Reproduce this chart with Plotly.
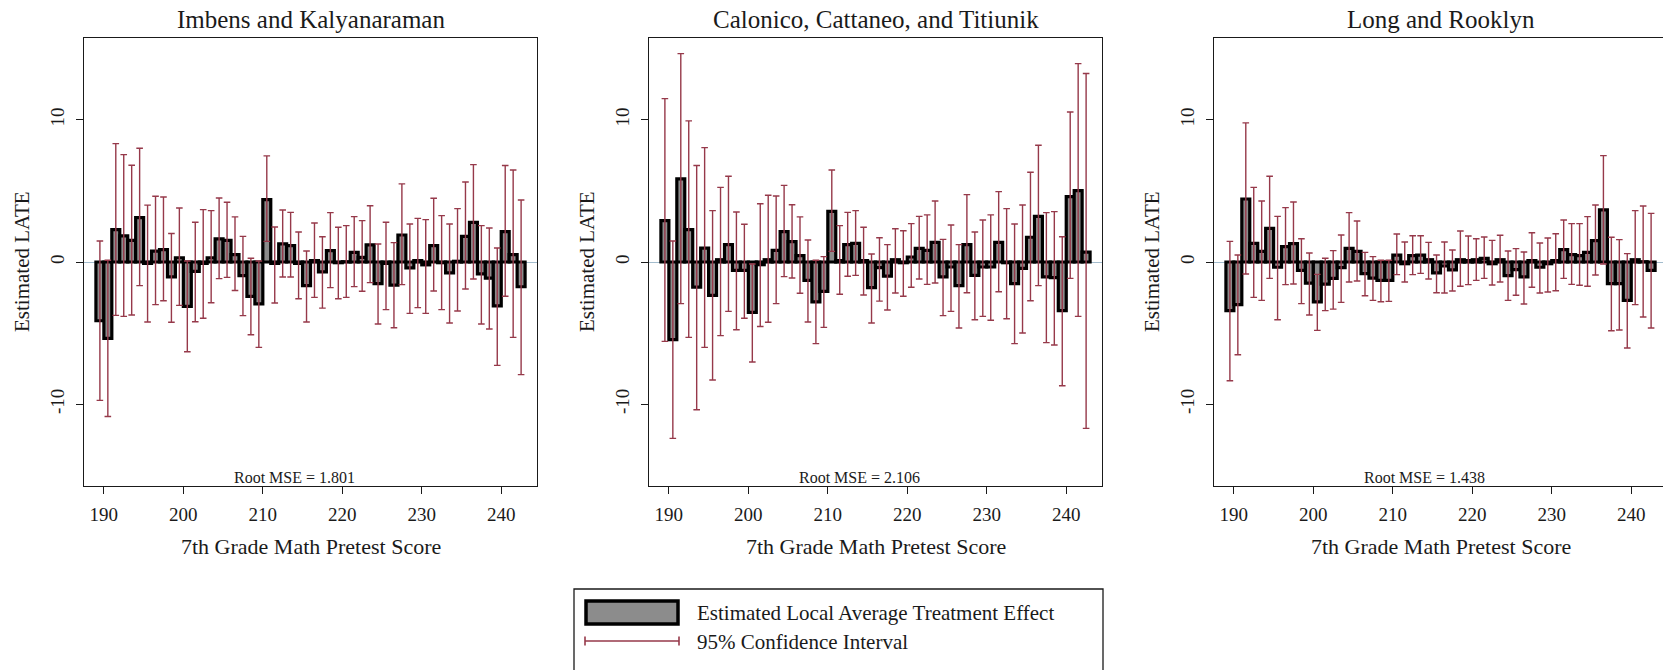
import plotly.graph_objects as go

W, H = 1663, 670

scores = [189.5, 190.5, 191.5, 192.5, 193.5, 194.5, 195.5, 196.5, 197.5, 198.5,
          199.5, 200.5, 201.5, 202.5, 203.5, 204.5, 205.5, 206.5, 207.5, 208.5,
          209.5, 210.5, 211.5, 212.5, 213.5, 214.5, 215.5, 216.5, 217.5, 218.5,
          219.5, 220.5, 221.5, 222.5, 223.5, 224.5, 225.5, 226.5, 227.5, 228.5,
          229.5, 230.5, 231.5, 232.5, 233.5, 234.5, 235.5, 236.5, 237.5, 238.5,
          239.5, 240.5, 241.5, 242.5]

# Imbens and Kalyanaraman
ik_est = [-4.13, -5.37, 2.27, 1.83, 1.52, 3.12, -0.10, 0.77, 0.87, -1.05,
          0.30, -3.12, -0.66, -0.10, 0.30, 1.62, 1.52, 0.52, -0.96, -2.41,
          -2.95, 4.38, -0.10, 1.27, 1.15, -0.10, -1.66, 0.10, -0.70, 0.80,
          -0.05, 0.02, 0.68, 0.33, 1.20, -1.52, -0.10, -1.62, 1.90, -0.42,
          0.10, -0.20, 1.15, -0.05, -0.77, 0.05, 1.80, 2.79, -0.84, -1.13,
          -3.09, 2.13, 0.52, -1.74]
ik_lo = [-9.73, -10.86, -3.75, -3.82, -3.73, -1.66, -4.22, -3.00, -2.72, -4.24,
         -3.05, -6.31, -4.20, -3.96, -2.86, -1.17, -1.08, -2.00, -3.77, -5.11,
         -6.00, 1.45, -2.88, -1.05, -1.05, -2.58, -4.22, -2.49, -3.24, -1.80,
         -2.58, -2.49, -1.73, -2.06, -1.45, -4.36, -3.35, -4.62, -1.59, -3.61,
         -3.21, -3.61, -2.04, -3.35, -4.29, -3.45, -1.90, -1.20, -4.36, -4.71,
         -7.27, -2.41, -5.30, -7.92]
ik_hi = [1.48, 0.12, 8.32, 7.55, 6.80, 8.00, 4.00, 4.62, 4.57, 2.00,
         3.80, 0.07, 2.79, 3.68, 3.61, 4.50, 4.20, 3.17, 1.80, 0.26,
         0.07, 7.46, 2.46, 3.66, 3.49, 2.11, 0.77, 2.74, 1.78, 3.47,
         2.44, 2.56, 3.19, 2.91, 3.96, 1.27, 2.79, 1.36, 5.49, 2.67,
         3.07, 2.98, 4.48, 3.26, 2.67, 3.75, 5.63, 6.85, 2.56, 2.39,
         0.98, 6.78, 6.47, 4.36]

# Calonico, Cattaneo, and Titiunik
cct_est = [2.91, -5.46, 5.84, 2.27, -1.76, 0.98, -2.34, 0.16, 1.22, -0.59,
           -0.59, -3.54, -0.19, 0.16, 0.82, 2.13, 1.43, 0.45, -1.29, -2.81,
           -2.06, 3.56, 0.10, 1.22, 1.31, 0.10, -1.80, -0.40, -1.00, 0.16,
           -0.05, 0.35, 0.96, 0.82, 1.38, -1.05, -0.35, -1.66, 1.22, -0.94,
           -0.35, -0.35, 1.38, -0.05, -1.52, -0.45, 1.74, 3.21, -1.05, -1.10,
           -3.42, 4.60, 5.02, 0.70]
cct_lo = [-5.58, -12.40, -2.93, -5.30, -10.39, -6.00, -8.30, -5.18, -3.47, -4.76,
          -3.96, -7.03, -4.53, -4.24, -2.93, -1.03, -1.13, -2.20, -4.22, -5.74,
          -4.60, 0.75, -2.27, -1.00, -0.94, -2.32, -4.29, -2.75, -3.38, -2.18,
          -2.41, -1.78, -1.20, -1.57, -1.48, -3.77, -3.47, -4.64, -2.16, -4.06,
          -3.82, -4.10, -2.09, -3.99, -5.74, -4.99, -2.72, -1.66, -5.67, -5.84,
          -8.70, -1.15, -3.82, -11.70]
cct_hi = [11.49, 1.48, 14.65, 9.92, 6.78, 8.04, 3.61, 5.25, 6.03, 3.52,
          2.65, -0.14, 4.10, 4.69, 4.64, 5.39, 4.03, 3.17, 1.55, 0.12,
          0.38, 6.47, 2.56, 3.49, 3.61, 2.44, 0.56, 1.71, 1.22, 2.34,
          2.20, 2.70, 3.21, 3.31, 4.29, 1.59, 2.60, 1.22, 4.74, 2.11,
          2.95, 3.31, 4.95, 3.75, 2.67, 4.01, 6.31, 8.21, 3.47, 3.54,
          1.78, 10.55, 13.95, 13.25]

# Long and Rooklyn
lr_est = [-3.42, -3.00, 4.43, 1.31, 0.75, 2.37, -0.37, 1.08, 1.29, -0.59,
          -1.48, -2.81, -1.55, -1.15, -0.40, 0.96, 0.75, -0.82, -1.13, -1.29,
          -1.29, 0.49, -0.12, 0.45, 0.49, 0.16, -0.77, -0.28, -0.56, 0.16,
          0.10, 0.16, 0.26, -0.12, 0.16, -0.96, -0.54, -1.05, 0.10, -0.37,
          -0.12, 0.10, 0.87, 0.52, 0.45, 0.68, 1.50, 3.66, -1.52, -1.52,
          -2.70, 0.16, 0.02, -0.59]
lr_lo = [-8.35, -6.52, -0.84, -2.49, -2.70, -1.15, -4.06, -1.59, -1.55, -2.93,
         -3.73, -4.81, -3.42, -3.31, -2.84, -1.41, -1.34, -2.37, -2.70, -2.79,
         -2.77, -0.89, -1.41, -0.89, -0.80, -1.20, -2.16, -2.18, -2.04, -1.71,
         -1.59, -1.29, -1.15, -1.62, -1.41, -2.70, -2.34, -2.95, -1.78, -2.18,
         -2.11, -2.02, -1.15, -1.57, -1.64, -1.71, -0.91, -0.14, -4.83, -4.78,
         -6.05, -3.00, -3.87, -4.64]
lr_hi = [1.45, 0.49, 9.78, 5.25, 4.29, 6.03, 3.21, 3.82, 4.22, 1.64,
         0.63, -0.87, 0.26, 0.80, 1.90, 3.47, 2.88, 0.68, 0.38, 0.12,
         0.12, 1.97, 1.41, 1.85, 1.85, 1.38, 0.49, 1.41, 0.84, 2.18,
         1.83, 1.64, 1.76, 1.52, 1.88, 0.77, 0.94, 0.70, 2.06, 1.34,
         1.69, 1.99, 2.95, 2.70, 2.70, 3.19, 4.01, 7.48, 1.74, 1.57,
         0.59, 3.61, 3.94, 3.42]

titles = ["Imbens and Kalyanaraman", "Calonico, Cattaneo, and Titiunik", "Long and Rooklyn"]
rmse_labels = ["Root MSE = 1.801", "Root MSE = 2.106", "Root MSE = 1.438"]
x_ticks = [190, 200, 210, 220, 230, 240]
y_ticks = [-10, 0, 10]
x_title = "7th Grade Math Pretest Score"
y_title = "Estimated LATE"
legend_labels = ["Estimated Local Average Treatment Effect", "95% Confidence Interval"]

series = [(ik_est, ik_lo, ik_hi), (cct_est, cct_lo, cct_hi), (lr_est, lr_lo, lr_hi)]

FONT = "Liberation Serif"
INK = "#1a1a1a"
MAROON = "#96394a"
BAR_FILL = "#8c8c8c"

fig = go.Figure()

left_px = [84, 649, 1214]
plot_w = 453
top_px, bot_px = 38, 486
x_min, px_per_unit = 187.5, plot_w / 57.0
ydom = [1 - bot_px / H, 1 - top_px / H]

annotations = []
shapes = []

for i, (est, lo, hi) in enumerate(series):
    n = i + 1
    xa = "x" if n == 1 else f"x{n}"
    ya = "y" if n == 1 else f"y{n}"
    x0 = left_px[i]
    x1 = min(x0 + plot_w, W)
    xr = [x_min, x_min + (x1 - x0) / px_per_unit]
    fig.add_trace(go.Bar(
        x=scores, y=est, width=1.0,
        marker=dict(color=BAR_FILL, line=dict(color="black", width=3.2)),
        error_y=dict(type="data", symmetric=False,
                     array=[h - e for h, e in zip(hi, est)],
                     arrayminus=[e - l for e, l in zip(est, lo)],
                     color=MAROON, thickness=1.4, width=3.3),
        xaxis=xa, yaxis=ya, showlegend=False, hoverinfo="skip"))
    xkey = "xaxis" if n == 1 else f"xaxis{n}"
    ykey = "yaxis" if n == 1 else f"yaxis{n}"
    fig.layout[xkey] = dict(
        domain=[x0 / W, x1 / W], range=xr, anchor=ya,
        showline=True, linecolor=INK, linewidth=1.3, mirror=True,
        ticks="outside", ticklen=7, tickwidth=1.2, tickcolor=INK,
        tickvals=x_ticks, ticktext=[str(v) for v in x_ticks],
        tickfont=dict(family=FONT, size=19, color=INK),
        ticklabelstandoff=4,
        showgrid=False, zeroline=False, automargin=False, fixedrange=True)
    fig.layout[ykey] = dict(
        domain=ydom, range=[-15.75, 15.75], anchor=xa,
        showline=True, linecolor=INK, linewidth=1.3, mirror=(n != 3),
        ticks="outside", ticklen=7, tickwidth=1.2, tickcolor=INK,
        tickvals=y_ticks, ticktext=[str(v) for v in y_ticks], tickangle=-90,
        tickfont=dict(family=FONT, size=19, color=INK),
        ticklabelstandoff=4,
        showgrid=False, zeroline=True, zerolinecolor="#a3bccd", zerolinewidth=1.2,
        automargin=False, fixedrange=True)
    cx = x0 + plot_w / 2.0
    annotations.append(dict(text=titles[i], x=cx / W, y=1 - 19 / H, xref="paper", yref="paper",
                            showarrow=False, xanchor="center", yanchor="middle",
                            font=dict(family=FONT, size=25, color=INK)))
    annotations.append(dict(text=x_title, x=cx / W, y=1 - 546 / H, xref="paper", yref="paper",
                            showarrow=False, xanchor="center", yanchor="middle",
                            font=dict(family=FONT, size=22, color=INK)))
    annotations.append(dict(text=y_title, x=(x0 - 62) / W, y=1 - 262 / H, xref="paper", yref="paper",
                            showarrow=False, xanchor="center", yanchor="middle", textangle=-90,
                            font=dict(family=FONT, size=21, color=INK)))
    annotations.append(dict(text=rmse_labels[i], x=(x0 + 210.5) / W, y=1 - 477 / H,
                            xref="paper", yref="paper",
                            showarrow=False, xanchor="center", yanchor="middle",
                            font=dict(family=FONT, size=16, color=INK)))

def px(x):
    return x / W

def py(y):
    return 1 - y / H

shapes.append(dict(type="rect", xref="paper", yref="paper",
                   x0=px(574), x1=px(1103), y0=py(675), y1=py(589),
                   line=dict(color=INK, width=1.3), fillcolor="white"))
shapes.append(dict(type="rect", xref="paper", yref="paper",
                   x0=px(586), x1=px(678), y0=py(624), y1=py(601),
                   line=dict(color="black", width=3.5), fillcolor=BAR_FILL))
shapes.append(dict(type="line", xref="paper", yref="paper",
                   x0=px(585), x1=px(679), y0=py(641), y1=py(641),
                   line=dict(color=MAROON, width=1.6)))
for xc in (585, 679):
    shapes.append(dict(type="line", xref="paper", yref="paper",
                       x0=px(xc), x1=px(xc), y0=py(636.5), y1=py(645.5),
                       line=dict(color=MAROON, width=1.6)))
annotations.append(dict(text=legend_labels[0], x=px(695), y=py(613), xref="paper", yref="paper",
                        showarrow=False, xanchor="left", yanchor="middle",
                        font=dict(family=FONT, size=21, color=INK)))
annotations.append(dict(text=legend_labels[1], x=px(695), y=py(642), xref="paper", yref="paper",
                        showarrow=False, xanchor="left", yanchor="middle",
                        font=dict(family=FONT, size=21, color=INK)))

fig.update_layout(
    width=W, height=H,
    margin=dict(l=0, r=0, t=0, b=0, pad=0),
    paper_bgcolor="white", plot_bgcolor="white",
    showlegend=False, barmode="overlay",
    annotations=annotations, shapes=shapes,
)

fig.write_html("out.html", config={"displayModeBar": False})
